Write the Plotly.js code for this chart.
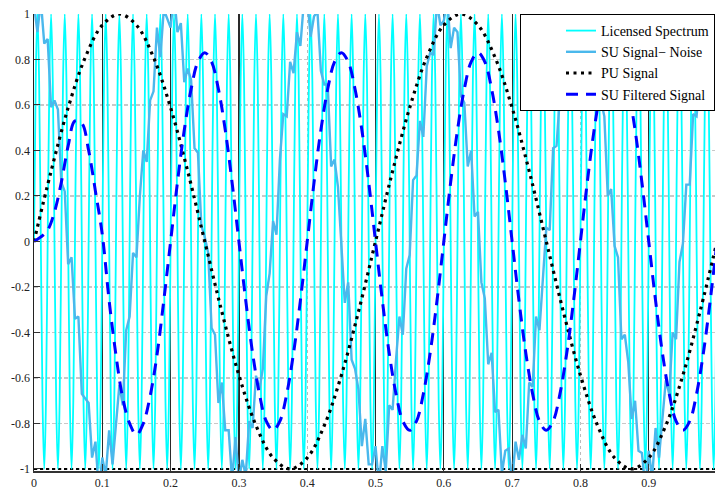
<!DOCTYPE html>
<html>
<head>
<meta charset="utf-8">
<script src="https://cdn.plot.ly/plotly-3.0.1.min.js"></script>
<style>html,body{margin:0;padding:0;background:#fff;}#chart{width:715px;height:497px;}</style>
</head>
<body>
<div id="chart"></div>
<script>
// ---- data ----
const seriesNames = ["Licensed Spectrum", "SU Signal\u2212 Noise", "PU Signal", "SU Filtered Signal"];
const xTickVals = [0, 0.1, 0.2, 0.3, 0.4, 0.5, 0.6, 0.7, 0.8, 0.9];
const xTickText = ["0", "0.1", "0.2", "0.3", "0.4", "0.5", "0.6", "0.7", "0.8", "0.9"];
const xDarkGrid = [0.1, 0.2, 0.3, 0.5, 0.6, 0.7, 0.9];
const yTickVals = [-1, -0.8, -0.6, -0.4, -0.2, 0, 0.2, 0.4, 0.6, 0.8, 1];
const yTickText = ["-1", "-0.8", "-0.6", "-0.4", "-0.2", "0", "0.2", "0.4", "0.6", "0.8", "1"];

// Licensed spectrum: samples every 0.0025 s starting at 0
const licensedStart = 0, licensedStep = 0.0025;
const licensed = [
0,0.707,1,0.707,0,-0.707,-1,-0.707, 0,0.707,1,0.707,0,-0.707,-1,-0.707,
0,0.707,1,0.707,0,-0.707,-1,-0.707, 0,0.707,1,0.707,0,-0.707,-1,-0.707,
0,0.707,1,0.707,0,-0.707,-1,-0.707, 0,0.707,1,0.707,0,-0.707,-1,-0.707,
0,0.707,1,0.707,0,-0.707,-1,-0.707, 0,0.707,1,0.707,0,-0.707,-1,-0.707,
0,0.707,1,0.707,0,-0.707,-1,-0.707, 0,0.707,1,0.707,0,-0.707,-1,-0.707,
0,0.707,1,0.707,0,-0.707,-1,-0.707, 0,0.707,1,0.707,0,-0.707,-1,-0.707,
0,0.707,1,0.707,0,-0.707,-1,-0.707, 0,0.707,1,0.707,0,-0.707,-1,-0.707,
0,0.707,1,0.707,0,-0.707,-1,-0.707, 0,0.707,1,0.707,0,-0.707,-1,-0.707,
0,0.707,1,0.707,0,-0.707,-1,-0.707, 0,0.707,1,0.707,0,-0.707,-1,-0.707,
0,0.707,1,0.707,0,-0.707,-1,-0.707, 0,0.707,1,0.707,0,-0.707,-1,-0.707,
0,0.707,1,0.707,0,-0.707,-1,-0.707, 0,0.707,1,0.707,0,-0.707,-1,-0.707,
0,0.707,1,0.707,0,-0.707,-1,-0.707, 0,0.707,1,0.707,0,-0.707,-1,-0.707,
0,0.707,1,0.707,0,-0.707,-1,-0.707, 0,0.707,1,0.707,0,-0.707,-1,-0.707,
0,0.707,1,0.707,0,-0.707,-1,-0.707, 0,0.707,1,0.707,0,-0.707,-1,-0.707,
0,0.707,1,0.707,0,-0.707,-1,-0.707, 0,0.707,1,0.707,0,-0.707,-1,-0.707,
0,0.707,1,0.707,0,-0.707,-1,-0.707, 0,0.707,1,0.707,0,-0.707,-1,-0.707,
0,0.707,1,0.707,0,-0.707,-1,-0.707, 0,0.707,1,0.707,0,-0.707,-1,-0.707,
0,0.707,1,0.707,0,-0.707,-1,-0.707, 0,0.707,1,0.707,0,-0.707,-1,-0.707,
0,0.707,1,0.707,0,-0.707,-1,-0.707, 0,0.707,1,0.707,0,-0.707,-1,-0.707,
0,0.707,1,0.707,0,-0.707,-1,-0.707, 0,0.707,1,0.707,0,-0.707,-1,-0.707,
0,0.707,1,0.707,0,-0.707,-1,-0.707, 0,0.707,1,0.707,0,-0.707,-1,-0.707,
0,0.707,1,0.707,0,-0.707,-1,-0.707, 0,0.707,1,0.707,0,-0.707,-1,-0.707,
0,0.707,1,0.707,0,-0.707,-1,-0.707, 0,0.707,1,0.707,0,-0.707,-1,-0.707,
0,0.707,1,0.707,0,-0.707,-1,-0.707, 0,0.707,1,0.707,0,-0.707,-1,-0.707,
0,0.707,1,0.707,0,-0.707,-1,-0.707, 0,0.707,1,0.707,0,-0.707,-1,-0.707,
0];

// SU signal + noise: samples every 0.005 s
const noisyStart = 0, noisyStep = 0.005;
const noisy = [
1.04,0.92,1.06,0.87,0.89,0.59,0.62,0.58,0.26,0.22,
-0.10,-0.07,-0.34,-0.33,-0.67,-0.69,-0.71,-0.95,-0.88,-1.10,
-0.95,-1.03,-0.83,-0.98,-0.80,-0.63,-0.72,-0.39,-0.33,-0.05,
-0.07,0.20,0.40,0.35,0.62,0.66,0.94,0.81,1.02,0.98,
0.94,1.09,0.92,0.96,0.70,0.76,0.71,0.41,0.39,0.07,
0.02,-0.05,-0.38,-0.41,-0.71,-0.62,-0.83,-0.83,-1.05,-0.86,
-1.05,-0.96,-1.03,-0.79,-0.82,-0.59,-0.65,-0.56,-0.24,-0.14,
0.09,0.03,0.36,0.56,0.55,0.79,0.74,0.92,0.86,1.05,
1.07,0.90,0.99,1.01,0.75,0.69,0.69,0.33,0.36,0.24,
-0.04,-0.27,-0.18,-0.52,-0.56,-0.65,-0.90,-0.78,-0.98,-0.98,
-0.90,-1.07,-0.90,-1.01,-0.72,-0.74,-0.52,-0.33,-0.41,-0.12,
-0.06,0.27,0.29,0.53,0.46,0.77,0.83,0.82,1.05,0.95,
0.97,1.07,0.85,0.94,0.92,0.64,0.61,0.33,0.40,0.11,
0.13,-0.18,-0.25,-0.54,-0.49,-0.75,-0.74,-1.02,-0.92,-0.91,
-1.06,-0.88,-0.96,-0.85,-0.91,-0.62,-0.64,-0.33,-0.39,-0.14,
0.06,0.05,0.41,0.42,0.64,0.62,0.93,0.87,0.99,0.92,
1.05,0.89,1.03,0.85,0.93,0.63,0.62,0.55,0.20,0.23,
-0.02,-0.07,-0.43,-0.41,-0.53,-0.78,-0.70,-0.92,-0.93,-1.08,
-0.92,-1.04,-0.82,-0.95,-0.78,-0.61,-0.67,-0.40,-0.43,-0.09,
-0.01,0.25,0.25,0.56,0.55,0.73,0.89,0.79,1.01,0.96,
1.04];

// PU signal: samples every 0.025 s
const puStart = 0, puStep = 0.025;
const pu = [
0,0.309,0.588,0.809,0.951,1,0.951,0.809,0.588,0.309,
0,-0.309,-0.588,-0.809,-0.951,-1,-0.951,-0.809,-0.588,-0.309,
0,0.309,0.588,0.809,0.951,1,0.951,0.809,0.588,0.309,
0,-0.309,-0.588,-0.809,-0.951,-1,-0.951,-0.809,-0.588,-0.309,
0];

// SU filtered signal: samples every 0.01 s
const filtStart = 0, filtStep = 0.01;
const filtered = [
0,0.02,0.05,0.13,0.26,0.42,0.53,0.52,0.40,0.22,
0.03,-0.26,-0.50,-0.69,-0.80,-0.85,-0.80,-0.68,-0.50,-0.26,
0,0.26,0.49,0.67,0.79,0.83,0.79,0.67,0.49,0.26,
0,-0.26,-0.49,-0.67,-0.79,-0.83,-0.79,-0.67,-0.49,-0.26,
0,0.26,0.49,0.67,0.79,0.83,0.79,0.67,0.49,0.26,
0,-0.26,-0.49,-0.67,-0.79,-0.83,-0.79,-0.67,-0.49,-0.26,
0,0.26,0.49,0.67,0.79,0.83,0.79,0.67,0.49,0.26,
0,-0.26,-0.49,-0.67,-0.79,-0.83,-0.79,-0.67,-0.49,-0.26,
0,0.26,0.49,0.67,0.79,0.83,0.79,0.67,0.49,0.26,
0,-0.26,-0.49,-0.67,-0.79,-0.83,-0.79,-0.67,-0.49,-0.26,
0];

// ---- chart ----
const xRange = [0, 0.997];
const yRange = [-1.009, 1.0];
const serif = "Liberation Serif, Times New Roman, serif";

const traces = [
  {type:"scatter", mode:"lines", name:seriesNames[0], y:licensed, x0:licensedStart, dx:licensedStep,
   line:{color:"#00FFFF", width:1.8, shape:"spline"}, legendgroup:"a"},
  {type:"scatter", mode:"lines", name:seriesNames[1], y:noisy, x0:noisyStart, dx:noisyStep,
   line:{color:"#4AB8EC", width:2.4}, legendgroup:"b"},
  {type:"scatter", mode:"lines", name:seriesNames[2], y:pu, x0:puStart, dx:puStep,
   line:{color:"#000000", width:3.2, dash:"3px,4.5px", shape:"spline"}, legendgroup:"c"},
  {type:"scatter", mode:"lines", name:seriesNames[3], y:filtered, x0:filtStart, dx:filtStep,
   line:{color:"#0000FF", width:3, dash:"12px,8px", shape:"spline"}, legendgroup:"d"},
  {type:"scatter", mode:"lines", x:[], y:[], xaxis:"x2", yaxis:"y2", showlegend:false, hoverinfo:"skip"}
];

const layout = {
  width:715, height:497,
  margin:{l:34, r:0, t:14, b:26},
  paper_bgcolor:"#ffffff", plot_bgcolor:"#ffffff",
  showlegend:true,
  font:{family:serif, size:12, color:"#222"},
  xaxis:{range:xRange, tickvals:xTickVals, ticktext:xTickText, ticks:"inside", ticklen:7, tickcolor:"#333",
         showline:true, linecolor:"#333", linewidth:1.5, showgrid:true, gridcolor:"#bbbbbb", griddash:"dot",
         gridwidth:1, zeroline:false, tickfont:{family:serif, size:12, color:"#222"}, fixedrange:true},
  yaxis:{range:yRange, tickvals:yTickVals, ticktext:yTickText, ticks:"inside", ticklen:6, tickcolor:"#333",
         showline:true, linecolor:"#222", linewidth:1.5, showgrid:true, gridcolor:"#c8c8c8", griddash:"4px,2px",
         gridwidth:1.5, zeroline:false, tickfont:{family:serif, size:12, color:"#222"}, fixedrange:true},
  xaxis2:{overlaying:"x", anchor:"y", range:xRange, tickvals:xDarkGrid, showticklabels:false, ticks:"",
          showgrid:true, gridcolor:"#2a2a2a", gridwidth:1.2, zeroline:false, showline:false},
  yaxis2:{overlaying:"y", anchor:"x", range:yRange, tickvals:[-1], showticklabels:false, ticks:"",
          showgrid:true, gridcolor:"#000000", griddash:"dot", gridwidth:1.2, zeroline:false, showline:false},
  legend:{x:1, xanchor:"right", y:1, yanchor:"top", bgcolor:"#ffffff", bordercolor:"#000000", borderwidth:1,
          font:{family:serif, size:14, color:"#000"}, traceorder:"grouped", tracegroupgap:0, indentation:40}
};

Plotly.newPlot("chart", traces, layout, {displayModeBar:false, staticPlot:true});
</script>
</body>
</html>
